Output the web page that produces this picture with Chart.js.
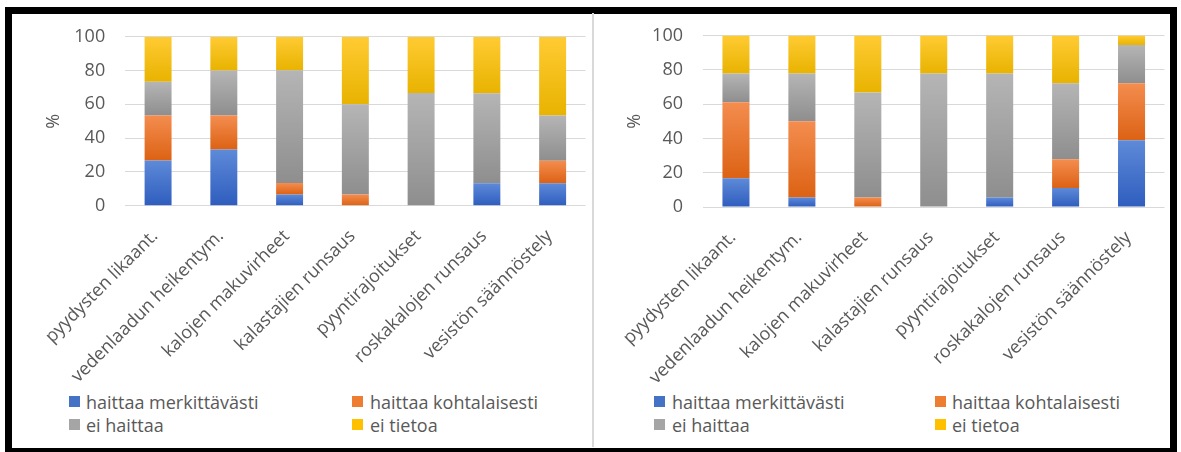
<!DOCTYPE html>
<html>
<head>
<meta charset="utf-8">
<script src="https://cdn.jsdelivr.net/npm/chart.js@4"></script>
<style>
  html, body { margin: 0; padding: 0; background: #fff; width: 1181px; height: 452px; overflow: hidden; }
  #frame { position: absolute; left: 5px; top: 7px; width: 1158px; height: 434px; border: 7px solid #000; background: #fff; }
  #divider { position: absolute; left: 592px; top: 13px; width: 2px; height: 434px; background: #d9d9d9; }
  .cv { position: absolute; }
  .legend { position: absolute; font-family: 'Open Sans', sans-serif; font-size: 18px; color: #595959; }
  .li { position: absolute; height: 22px; line-height: 22px; white-space: nowrap; }
  .sq { position: absolute; width: 11px; height: 11px; top: 5px; }
</style>
</head>
<body>
<div id="frame"></div>
<div id="divider"></div>
<div class="cv" style="left:12px; top:13px; width:581px; height:375px;"><canvas id="c1" width="581" height="375"></canvas></div>
<div class="cv" style="left:595px; top:13px; width:574px; height:375px;"><canvas id="c2" width="574" height="375"></canvas></div>
<div id="leg1" class="legend"></div>
<div id="leg2" class="legend"></div>
<script>
// ---- data ----
const categories = ['pyydysten likaant.', 'vedenlaadun heikentym.', 'kalojen makuvirheet', 'kalastajien runsaus', 'pyyntirajoitukset', 'roskakalojen runsaus', 'vesistön säännöstely'];
const seriesNames = ['haittaa merkittävästi', 'haittaa kohtalaisesti', 'ei haittaa', 'ei tietoa'];
const yAxisTitle = '%';
const yMin = 0, yMax = 100, yStep = 20;

// left chart
const leftMerkittavasti = [26.7, 33.3, 6.7, 0, 0, 13.3, 13.3];
const leftKohtalaisesti = [26.7, 20.0, 6.7, 6.7, 0, 0, 13.3];
const leftEiHaittaa     = [20.0, 26.7, 66.7, 53.3, 66.7, 53.3, 26.7];
const leftEiTietoa      = [26.6, 20.0, 19.9, 40.0, 33.3, 33.4, 46.7];

// right chart
const rightMerkittavasti = [16.7, 5.6, 0, 0, 5.6, 11.1, 38.9];
const rightKohtalaisesti = [44.4, 44.4, 5.6, 0, 0, 16.7, 33.3];
const rightEiHaittaa     = [16.7, 27.8, 61.1, 77.8, 72.2, 44.4, 22.2];
const rightEiTietoa      = [22.2, 22.2, 33.3, 22.2, 22.2, 27.8, 5.6];

// ---- styles ----
const baseColors = ['#4472C4', '#ED7D31', '#A5A5A5', '#FFC000'];
const topColors = ['#5E8AD8', '#F48D4F', '#B5B5B5', '#FFCB33'];
const bottomColors = ['#2E5DBE', '#DC6214', '#8E8E8E', '#E8B300'];
const textColor = '#595959';
const gridColor = '#d9d9d9';

Chart.defaults.font.family = "'Open Sans', sans-serif";
Chart.defaults.font.size = 18;
Chart.defaults.color = textColor;

function gradientFor(di) {
  return function(ctx) {
    if (ctx.type !== 'data') return baseColors[di];
    const chart = ctx.chart;
    const ys = chart.scales && chart.scales.y;
    if (!ys || !chart.chartArea) return baseColors[di];
    const idx = ctx.dataIndex;
    let start = 0;
    for (let k = 0; k < di; k++) start += chart.data.datasets[k].data[idx];
    const end = start + chart.data.datasets[di].data[idx];
    const p0 = ys.getPixelForValue(start);
    const p1 = ys.getPixelForValue(end);
    if (!isFinite(p0) || !isFinite(p1) || Math.abs(p0 - p1) < 0.5) return baseColors[di];
    const g = chart.ctx.createLinearGradient(0, p1, 0, p0);
    g.addColorStop(0, topColors[di]);
    g.addColorStop(1, bottomColors[di]);
    return g;
  };
}

function makeChart(id, series, cfg) {
  return new Chart(document.getElementById(id), {
    type: 'bar',
    data: {
      labels: categories,
      datasets: series.map((d, i) => ({
        label: seriesNames[i],
        data: d,
        backgroundColor: gradientFor(i),
        borderWidth: 0,
        categoryPercentage: 1,
        barPercentage: 0.41
      }))
    },
    options: {
      responsive: false,
      animation: false,
      events: [],
      layout: { padding: { top: cfg.padTop, right: cfg.padRight, left: 0, bottom: 0 } },
      plugins: { legend: { display: false }, tooltip: { enabled: false } },
      scales: {
        x: {
          stacked: true,
          grid: { display: false, drawTicks: false },
          border: { display: false },
          ticks: { minRotation: 45, maxRotation: 45, autoSkip: false, padding: 20, labelOffset: -3, color: textColor, font: { size: 18 } },
          afterFit: s => { s.height = cfg.xHeight; }
        },
        y: {
          stacked: true,
          min: yMin, max: yMax,
          grid: { color: gridColor, lineWidth: 1, drawTicks: false },
          border: { display: false },
          ticks: { stepSize: yStep, padding: 20, color: textColor, font: { size: 18 } },
          title: { display: true, text: yAxisTitle, color: textColor, font: { size: 18 }, padding: { top: cfg.titlePad, bottom: 0 } },
          afterFit: s => { s.width = cfg.yWidth; s.paddingTop = 0; s.paddingBottom = 0; }
        }
      }
    }
  });
}

makeChart('c1', [leftMerkittavasti, leftKohtalaisesti, leftEiHaittaa, leftEiTietoa],
  { padTop: 23.7, padRight: 7.5, xHeight: 182.3, yWidth: 113.2, titlePad: 30.8 });
makeChart('c2', [rightMerkittavasti, rightKohtalaisesti, rightEiHaittaa, rightEiTietoa],
  { padTop: 22.5, padRight: 4.5, xHeight: 181, yWidth: 108, titlePad: 29.2 });

// ---- HTML legends (2 columns) ----
function buildLegend(id, sqX, textX, rowY) {
  const el = document.getElementById(id);
  seriesNames.forEach((name, i) => {
    const col = i % 2, row = Math.floor(i / 2);
    const item = document.createElement('div');
    item.className = 'li';
    item.style.left = sqX[col] + 'px';
    item.style.top = (rowY[row] - 11) + 'px';
    const sq = document.createElement('span');
    sq.className = 'sq';
    sq.style.left = '0px';
    sq.style.background = baseColors[i];
    const tx = document.createElement('span');
    tx.style.position = 'absolute';
    tx.style.left = (textX[col] - sqX[col]) + 'px';
    tx.textContent = name;
    item.appendChild(sq);
    item.appendChild(tx);
    el.appendChild(item);
  });
}
buildLegend('leg1', [69, 352], [86, 370], [402, 425]);
buildLegend('leg2', [654, 935], [672, 952], [402, 425]);
</script>
</body>
</html>
